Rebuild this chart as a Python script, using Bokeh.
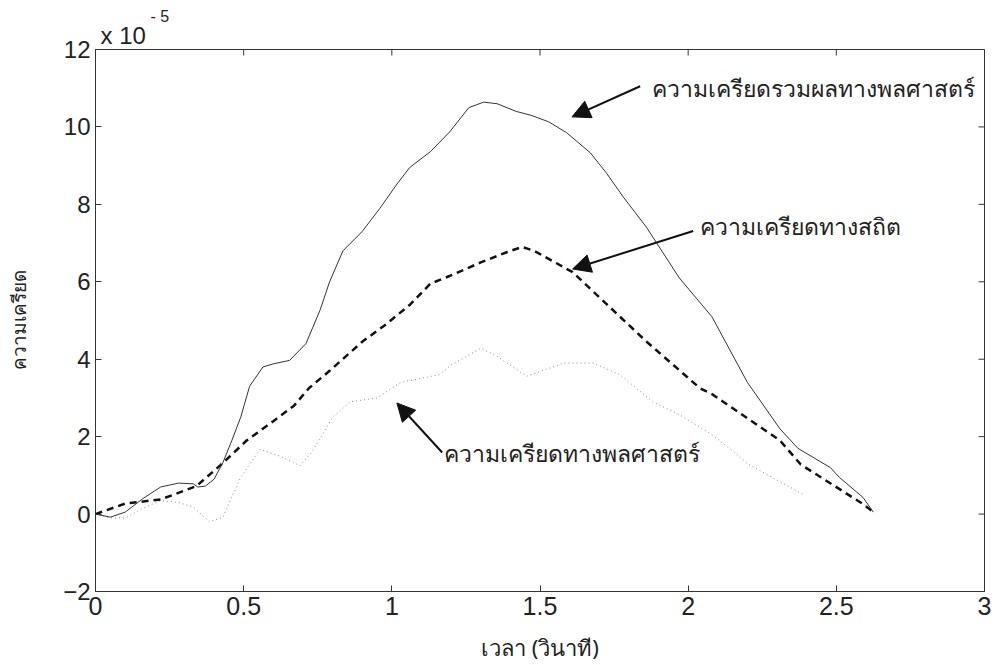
import math
from bokeh.plotting import figure
from bokeh.models import Range1d, Label, Arrow, NormalHead, FixedTicker, Title
from bokeh.embed import file_html
from bokeh.resources import INLINE

# values in units of 1e-5
t_total = [0, 0.05, 0.10, 0.16, 0.22, 0.28, 0.33, 0.345, 0.37, 0.40, 0.43, 0.46, 0.49, 0.52,
           0.565, 0.60, 0.655, 0.71, 0.757, 0.79, 0.835, 0.90, 0.96, 1.015, 1.06, 1.13, 1.195,
           1.26, 1.31, 1.355, 1.42, 1.47, 1.53, 1.59, 1.67, 1.725, 1.78, 1.86, 1.97, 2.08, 2.20,
           2.31, 2.37, 2.48, 2.51, 2.59, 2.625]
v_total = [0, -0.08, 0.05, 0.4, 0.7, 0.8, 0.78, 0.7, 0.72, 0.9, 1.33, 1.9, 2.5, 3.3,
           3.8, 3.88, 3.97, 4.4, 5.25, 6.0, 6.8, 7.3, 7.9, 8.5, 8.95, 9.36, 9.87,
           10.5, 10.64, 10.6, 10.4, 10.3, 10.13, 9.85, 9.33, 8.8, 8.2, 7.4, 6.1, 5.1, 3.4,
           2.2, 1.7, 1.2, 0.95, 0.43, 0.05]

t_static = [0, 0.10, 0.22, 0.27, 0.34, 0.42, 0.51, 0.60, 0.67, 0.72, 0.79, 0.90, 0.98, 1.06,
            1.13, 1.195, 1.30, 1.39, 1.44, 1.46, 1.48, 1.61, 1.86, 2.04, 2.08, 2.31, 2.38,
            2.59, 2.625]
v_static = [0, 0.27, 0.38, 0.52, 0.72, 1.25, 1.9, 2.4, 2.8, 3.25, 3.7, 4.45, 4.9, 5.4,
            5.95, 6.15, 6.5, 6.77, 6.9, 6.85, 6.8, 6.25, 4.45, 3.25, 3.1, 1.9, 1.28,
            0.26, 0.05]

t_dyn = [0, 0.05, 0.10, 0.16, 0.22, 0.28, 0.33, 0.385, 0.43, 0.49, 0.555, 0.62, 0.69, 0.73,
         0.80, 0.86, 0.95, 1.03, 1.16, 1.20, 1.30, 1.35, 1.455, 1.58, 1.68, 1.77, 1.88, 1.97,
         2.08, 2.15, 2.20, 2.39]
v_dyn = [0, -0.1, -0.1, 0.15, 0.35, 0.3, 0.18, -0.2, -0.08, 0.95, 1.67, 1.5, 1.25, 1.6,
         2.5, 2.9, 3.0, 3.4, 3.6, 3.85, 4.28, 4.1, 3.56, 3.9, 3.9, 3.6, 2.9, 2.57,
         2.05, 1.63, 1.3, 0.5]

x_ticks = [0, 0.5, 1, 1.5, 2, 2.5, 3]
y_ticks = [-2, 0, 2, 4, 6, 8, 10, 12]

label_total = "ความเครียดรวมผลทางพลศาสตร์"
label_static = "ความเครียดทางสถิต"
label_dyn = "ความเครียดทางพลศาสตร์"
x_label = "เวลา (วินาที)"
y_label = "ความเครียด"
exp_base = "x 10"
exp_power = "- 5"

FONT = "Liberation Sans"
THAI = "Noto Sans"
TXT = "#222222"
AX = "#333333"

X0, X1, Y0, Y1 = 0, 3, -2, 12

p = figure(width=996, height=664, output_backend="svg", toolbar_location=None,
           x_range=Range1d(X0, X1), y_range=Range1d(Y0, Y1),
           min_border_left=95, min_border_right=12, min_border_top=49, min_border_bottom=69)
p.grid.visible = False
p.outline_line_color = AX
p.outline_line_width = 1
p.background_fill_color = "white"

for ax in [p.xaxis[0], p.yaxis[0]]:
    ax.major_tick_in = 6
    ax.major_tick_out = 0
    ax.minor_tick_line_color = None
    ax.axis_line_color = AX
    ax.major_tick_line_color = AX
    ax.major_label_text_font = FONT
    ax.major_label_text_color = TXT
    ax.axis_label_text_font = THAI
    ax.axis_label_text_font_style = "normal"
    ax.axis_label_text_color = TXT

p.xaxis[0].ticker = FixedTicker(ticks=x_ticks)
p.yaxis[0].ticker = FixedTicker(ticks=y_ticks)
p.xaxis[0].major_label_text_font_size = "25px"
p.yaxis[0].major_label_text_font_size = "24px"
p.xaxis[0].major_label_standoff = 5
p.yaxis[0].major_label_standoff = 5

p.yaxis[0].axis_label = y_label
p.yaxis[0].axis_label_text_font_size = "19px"
p.yaxis[0].axis_label_standoff = 28

p.xaxis[0].axis_label = x_label
p.xaxis[0].axis_label_text_font_size = "22px"
p.xaxis[0].axis_label_standoff = 14

# MATLAB-style exponent above the box (outer title = superscript, inner = base)
p.title.text = exp_power
p.title.align = "left"
p.title.offset = 55
p.title.standoff = -11
p.title.text_font = FONT
p.title.text_font_size = "16px"
p.title.text_font_style = "normal"
p.title.text_color = TXT
p.add_layout(Title(text=exp_base, align="left", offset=5, standoff=1, text_font=FONT,
                   text_font_size="24px", text_font_style="normal", text_color=TXT), "above")

# inward ticks on the top and right edges of the box
p.ray(x=[X1] * len(y_ticks), y=y_ticks, length=6, length_units="screen", angle=math.pi,
      line_color=AX, line_width=1)
p.ray(x=x_ticks, y=[Y1] * len(x_ticks), length=6, length_units="screen", angle=-math.pi / 2,
      line_color=AX, line_width=1)

p.line(t_dyn, v_dyn, line_color="#8a8a8a", line_width=1, line_dash="1 3")
p.line(t_static, v_static, line_color="#111111", line_width=2.5, line_dash="7 5")
p.line(t_total, v_total, line_color="#333333", line_width=1)

# annotations
ann = [
    (1.838, 11.05, 1.608, 10.26, 1.878, 11.0, label_total),
    (2.017, 7.31, 1.61, 6.33, 2.04, 7.44, label_static),
    (1.17, 1.59, 1.017, 2.87, 1.176, 1.59, label_dyn),
]
for xs, ys, xe, ye, xt, yt, txt in ann:
    p.add_layout(Arrow(x_start=xs, y_start=ys, x_end=xe, y_end=ye, line_width=2,
                       line_color="#111111",
                       end=NormalHead(size=18, fill_color="#111111", line_color="#111111")))
    p.add_layout(Label(x=xt, y=yt, text=txt, text_font=THAI, text_font_size="23px",
                       text_baseline="middle", text_color=TXT))

open("out.html", "w").write(file_html(p, INLINE))
